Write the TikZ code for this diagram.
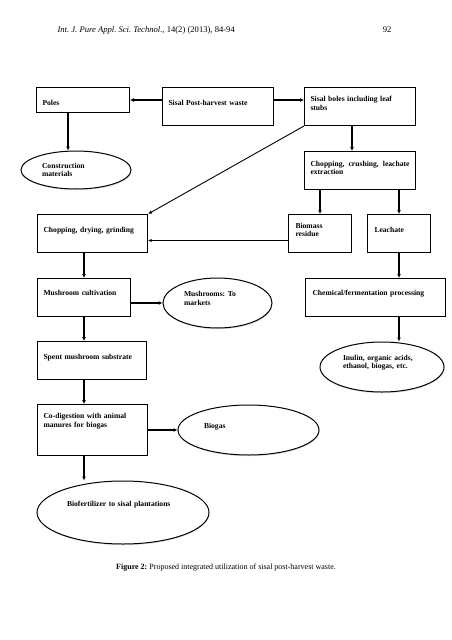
\documentclass[tikz,border=0pt]{standalone}
\usepackage{fontspec}
\setmainfont{Liberation Serif}
\usepackage{tikz}
\usetikzlibrary{arrows.meta,shapes.geometric,shadows}
\frenchspacing

\begin{document}
\begin{tikzpicture}[x=1pt,y=-1pt]

\tikzset{procbox/.style={draw, line width=1pt, anchor=north west, align=left,
    inner xsep=6pt, inner ysep=0pt, text height=17.5pt,
    font=\fontsize{7.6}{8.8}\selectfont\bfseries},
  outcome/.style={draw, ellipse, line width=1pt, inner sep=0pt, align=left, fill=white,
    drop shadow={shadow xshift=0.5pt, shadow yshift=-1.2pt, opacity=0.25},
    text height=6pt, font=\fontsize{7.6}{8.8}\selectfont\bfseries},
  flow/.style={-{Latex[length=4pt,width=4pt]}, line width=1.3pt}}

\useasboundingbox[fill=white] (0,0) rectangle (452,640);

\node[anchor=base west, font=\fontsize{8.6}{10}\selectfont] (header) at (54,32) {\textit{Int. J. Pure Appl. Sci. Technol.}, 14(2) (2013), 84-94};
\node[anchor=base east, font=\fontsize{8.6}{10}\selectfont] (pagenum) at (395,32) {92};

\node[procbox, text width=81pt, text depth=7.5pt] (poles) at (36,87) {Poles};
\node[procbox, text width=99pt, text depth=20.5pt] (waste) at (162,87) {Sisal Post-harvest waste};
\node[procbox, text width=99pt, text height=14pt, text depth=24pt] (boles) at (304,87) {Sisal boles including leaf\\stubs};
\node[procbox, align=justify, text width=99pt, text height=14.5pt, text depth=23.5pt] (chopcrush) at (304,151) {Chopping, crushing, leachate extraction};
\node[procbox, text width=98pt, text depth=20.5pt] (chopdry) at (37,214) {Chopping, drying, grinding};
\node[procbox, inner xsep=7pt, text width=49pt, text height=13.5pt, text depth=24.5pt] (biomass) at (288,214) {Biomass\\residue};
\node[procbox, inner xsep=7pt, text width=49pt, text depth=20.5pt] (leachate) at (367,214) {Leachate};
\node[procbox, text width=81pt, text height=17pt, text depth=21pt] (mushcult) at (37,278) {Mushroom cultivation};
\node[procbox, inner xsep=7pt, text width=126pt, text height=17pt, text depth=21pt] (chem) at (305,278) {Chemical/fermentation processing};
\node[procbox, text width=97pt, text height=18pt, text depth=20pt] (spent) at (37,341) {Spent mushroom substrate};
\node[procbox, text width=98pt, text height=14pt, text depth=37pt] (codig) at (37,404) {Co-digestion with animal\\manures for biogas};

\node[outcome, minimum width=110pt, minimum height=38pt, text width=68pt, text depth=10pt] (constr) at (76,170) {Construction\\materials};
\node[outcome, minimum width=109pt, minimum height=50pt, text width=67pt, text depth=19pt] (mush) at (217.5,303) {Mushrooms: To\\markets};
\node[outcome, minimum width=124pt, minimum height=50pt, text width=78pt, text depth=20pt] (inulin) at (382,367) {Inulin, organic acids,\\ethanol, biogas, etc.};
\node[outcome, minimum width=141pt, minimum height=50pt, text width=89pt, text depth=10pt] (biogas) at (248.5,430) {Biogas};
\node[outcome, minimum width=172pt, minimum height=63pt, text width=112pt, text depth=19pt] (biofert) at (123,512.5) {Biofertilizer to sisal plantations};

\node[anchor=base, font=\fontsize{8}{10}\selectfont] (caption) at (226,569) {\textbf{Figure 2:} Proposed integrated utilization of sisal post-harvest waste.};

\draw[flow] (waste.west |- poles.east) -- (poles.east);
\draw[flow] (waste.east |- poles.east) -- (boles.west |- poles.east);
\draw[flow] ([xshift=32pt]poles.south west) -- ([xshift=32pt]poles.south west |- constr.north);
\draw[flow] ([xshift=48pt]boles.south west) -- ([xshift=48pt]boles.south west |- chopcrush.north);
\draw[line width=0.9pt, -{Latex[length=4pt,width=3.5pt]}] (boles.south west) -- (chopdry.north east);
\draw[flow] (chopcrush.south -| biomass) -- (biomass.north);
\draw[flow] (chopcrush.south -| leachate) -- (leachate.north);
\draw[line width=0.6pt, -{Latex[length=3.5pt,width=3pt]}] ([yshift=-7pt]biomass.west) -- ([yshift=-7pt]biomass.west -| chopdry.east);
\draw[flow] (chopdry.south -| mushcult) -- (mushcult.north);
\draw[flow] (mushcult.east |- mush) -- (mush.west);
\draw[flow] (mushcult.south) -- (mushcult.south |- spent.north);
\draw[flow] (mushcult.south |- spent.south) -- (mushcult.south |- codig.north);
\draw[flow] (codig.east) -- (biogas.west);
\draw[flow] (mushcult.south |- codig.south) -- (mushcult.south |- biofert.north);
\draw[flow] (leachate.south) -- (leachate.south |- chem.north);
\draw[flow] (leachate.south |- chem.south) -- (leachate.south |- inulin.north);

\end{tikzpicture}
\end{document}
